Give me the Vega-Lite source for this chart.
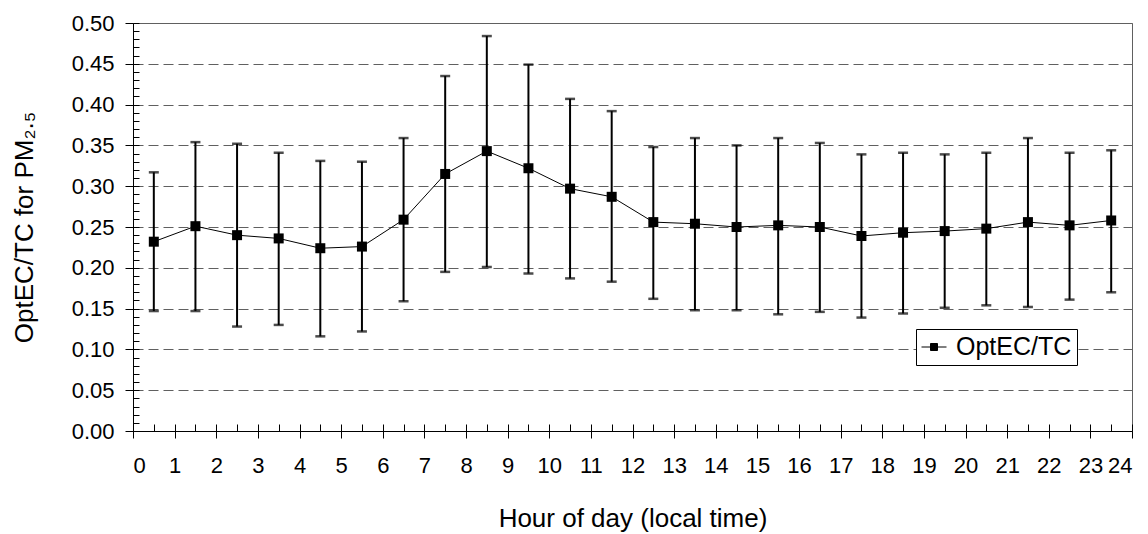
{
  "$schema": "https://vega.github.io/schema/vega-lite/v6.json",
  "width": 999,
  "height": 408,
  "autosize": {"type": "none"},
  "padding": {"left": 133, "top": 23, "right": 16, "bottom": 103},
  "background": "white",
  "config": {
    "font": "Liberation Sans",
    "view": {"stroke": "#606060", "strokeWidth": 1},
    "axis": {
      "labelFont": "Liberation Sans",
      "titleFont": "Liberation Sans",
      "labelColor": "black",
      "titleColor": "black",
      "titleFontWeight": "normal",
      "domainColor": "black",
      "tickColor": "black"
    },
    "legend": {
      "orient": "none",
      "legendX": 783,
      "legendY": 306,
      "strokeColor": "black",
      "strokeWidth": 1,
      "fillColor": "white",
      "padding": 5,
      "labelFont": "Liberation Sans",
      "labelFontSize": 25,
      "labelColor": "black",
      "labelOffset": 9,
      "symbolType": "M-1,0H1M-0.28,-0.28H0.28V0.28H-0.28Z",
      "symbolSize": 625,
      "symbolStrokeColor": "black",
      "symbolStrokeWidth": 1
    }
  },
  "data": {
    "values": [
      {"h": 0.5, "mean": 0.232, "lo": 0.147, "hi": 0.317, "s": "OptEC/TC"},
      {"h": 1.5, "mean": 0.251, "lo": 0.147, "hi": 0.354, "s": "OptEC/TC"},
      {"h": 2.5, "mean": 0.240, "lo": 0.128, "hi": 0.352, "s": "OptEC/TC"},
      {"h": 3.5, "mean": 0.236, "lo": 0.130, "hi": 0.341, "s": "OptEC/TC"},
      {"h": 4.5, "mean": 0.224, "lo": 0.116, "hi": 0.331, "s": "OptEC/TC"},
      {"h": 5.5, "mean": 0.226, "lo": 0.122, "hi": 0.330, "s": "OptEC/TC"},
      {"h": 6.5, "mean": 0.259, "lo": 0.159, "hi": 0.359, "s": "OptEC/TC"},
      {"h": 7.5, "mean": 0.315, "lo": 0.195, "hi": 0.435, "s": "OptEC/TC"},
      {"h": 8.5, "mean": 0.343, "lo": 0.201, "hi": 0.484, "s": "OptEC/TC"},
      {"h": 9.5, "mean": 0.322, "lo": 0.193, "hi": 0.449, "s": "OptEC/TC"},
      {"h": 10.5, "mean": 0.297, "lo": 0.187, "hi": 0.407, "s": "OptEC/TC"},
      {"h": 11.5, "mean": 0.287, "lo": 0.183, "hi": 0.392, "s": "OptEC/TC"},
      {"h": 12.5, "mean": 0.256, "lo": 0.162, "hi": 0.348, "s": "OptEC/TC"},
      {"h": 13.5, "mean": 0.254, "lo": 0.148, "hi": 0.359, "s": "OptEC/TC"},
      {"h": 14.5, "mean": 0.250, "lo": 0.148, "hi": 0.350, "s": "OptEC/TC"},
      {"h": 15.5, "mean": 0.252, "lo": 0.143, "hi": 0.359, "s": "OptEC/TC"},
      {"h": 16.5, "mean": 0.250, "lo": 0.146, "hi": 0.353, "s": "OptEC/TC"},
      {"h": 17.5, "mean": 0.239, "lo": 0.139, "hi": 0.339, "s": "OptEC/TC"},
      {"h": 18.5, "mean": 0.243, "lo": 0.144, "hi": 0.341, "s": "OptEC/TC"},
      {"h": 19.5, "mean": 0.245, "lo": 0.151, "hi": 0.339, "s": "OptEC/TC"},
      {"h": 20.5, "mean": 0.248, "lo": 0.154, "hi": 0.341, "s": "OptEC/TC"},
      {"h": 21.5, "mean": 0.256, "lo": 0.152, "hi": 0.359, "s": "OptEC/TC"},
      {"h": 22.5, "mean": 0.252, "lo": 0.161, "hi": 0.341, "s": "OptEC/TC"},
      {"h": 23.5, "mean": 0.258, "lo": 0.170, "hi": 0.344, "s": "OptEC/TC"}
    ]
  },
  "resolve": {"axis": {"x": "independent", "y": "independent"}},
  "layer": [
    {
      "mark": {"type": "rule", "color": "black", "strokeWidth": 2},
      "encoding": {
        "x": {
          "field": "h", "type": "quantitative",
          "scale": {"domain": [0, 24], "nice": false, "zero": false},
          "axis": {
            "orient": "bottom",
            "values": [0,1,2,3,4,5,6,7,8,9,10,11,12,13,14,15,16,17,18,19,20,21,22,23,24],
            "format": "d",
            "grid": false,
            "tickSize": 7,
            "labelFontSize": 22,
            "labelPadding": 17,
            "title": "Hour of day (local time)",
            "titleFontSize": 26,
            "titlePadding": 29
          }
        },
        "y": {
          "field": "lo", "type": "quantitative",
          "scale": {"domain": [0, 0.5], "nice": false, "zero": true},
          "axis": {
            "orient": "left",
            "values": [0, 0.05, 0.1, 0.15, 0.2, 0.25, 0.3, 0.35, 0.4, 0.45, 0.5],
            "format": ".2f",
            "grid": true,
            "gridColor": "#606060",
            "gridDash": [10, 5],
            "gridWidth": 1.2,
            "tickSize": 8,
            "labelFontSize": 22,
            "labelPadding": 11,
            "title": "OptEC/TC for PM₂.₅",
            "titleFontSize": 26,
            "titlePadding": 34
          }
        },
        "y2": {"field": "hi"}
      }
    },
    {
      "mark": {"type": "tick", "orient": "horizontal", "color": "black", "size": 10, "thickness": 2.5},
      "encoding": {
        "x": {"field": "h", "type": "quantitative", "axis": null},
        "y": {"field": "lo", "type": "quantitative", "axis": null}
      }
    },
    {
      "mark": {"type": "tick", "orient": "horizontal", "color": "black", "size": 10, "thickness": 2.5},
      "encoding": {
        "x": {"field": "h", "type": "quantitative", "axis": null},
        "y": {"field": "hi", "type": "quantitative", "axis": null}
      }
    },
    {
      "mark": {"type": "line", "color": "black", "strokeWidth": 1},
      "encoding": {
        "x": {
          "field": "h", "type": "quantitative",
          "axis": {
            "orient": "bottom",
            "values": [0,0.5,1,1.5,2,2.5,3,3.5,4,4.5,5,5.5,6,6.5,7,7.5,8,8.5,9,9.5,10,10.5,11,11.5,12,12.5,13,13.5,14,14.5,15,15.5,16,16.5,17,17.5,18,18.5,19,19.5,20,20.5,21,21.5,22,22.5,23,23.5,24],
            "tickSize": -7,
            "labels": false,
            "domain": false,
            "grid": false,
            "title": null
          }
        },
        "y": {
          "field": "mean", "type": "quantitative",
          "axis": {
            "orient": "left",
            "values": [0,0.01,0.02,0.03,0.04,0.05,0.06,0.07,0.08,0.09,0.1,0.11,0.12,0.13,0.14,0.15,0.16,0.17,0.18,0.19,0.2,0.21,0.22,0.23,0.24,0.25,0.26,0.27,0.28,0.29,0.3,0.31,0.32,0.33,0.34,0.35,0.36,0.37,0.38,0.39,0.4,0.41,0.42,0.43,0.44,0.45,0.46,0.47,0.48,0.49,0.5],
            "tickSize": -6,
            "labels": false,
            "domain": false,
            "grid": false,
            "title": null
          }
        }
      }
    },
    {
      "mark": {"type": "point", "shape": "square", "filled": true, "size": 100, "opacity": 1},
      "encoding": {
        "x": {"field": "h", "type": "quantitative", "axis": null},
        "y": {"field": "mean", "type": "quantitative", "axis": null},
        "color": {
          "field": "s", "type": "nominal",
          "scale": {"range": ["black"]},
          "legend": {"title": null}
        }
      }
    }
  ]
}
